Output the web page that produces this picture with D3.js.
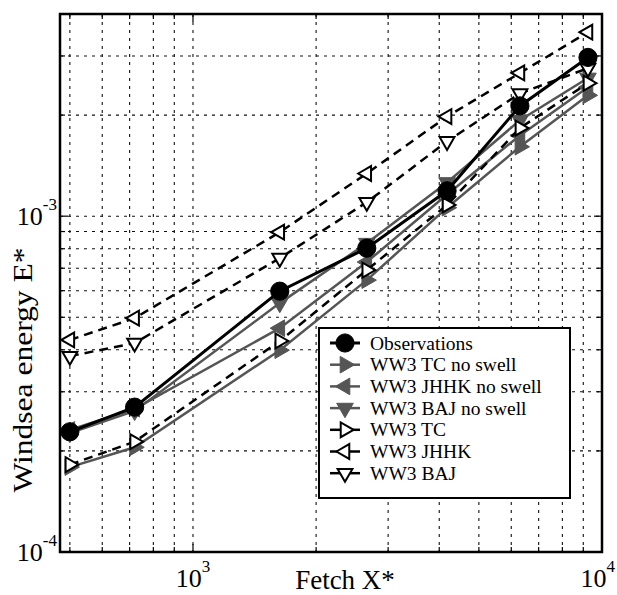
<!DOCTYPE html>
<html>
<head>
<meta charset="utf-8">
<script src="https://cdn.jsdelivr.net/npm/d3@7"></script>
<style>
  body { margin: 0; background: #fff; }
  text { font-family: "Liberation Serif", "Times New Roman", serif; fill: #000; }
</style>
</head>
<body>
<svg id="chart" width="617" height="595"></svg>
<script>
// Dimensionless fetch X* at which energies are compared
const fetchX = [500, 720, 1630, 2660, 4180, 6300, 9240];

// Dimensionless windsea energy E*
const observations = [2.28e-4, 2.70e-4, 5.98e-4, 8.03e-4, 1.19e-3, 2.13e-3, 2.97e-3];
const tcNoSwell    = [1.79e-4, 2.05e-4, 3.99e-4, 6.45e-4, 1.06e-3, 1.61e-3, 2.29e-3];
const jhhkNoSwell  = [2.31e-4, 2.67e-4, 4.64e-4, 7.30e-4, 1.16e-3, 1.74e-3, 2.42e-3];
const bajNoSwell   = [2.26e-4, 2.63e-4, 5.51e-4, 8.31e-4, 1.26e-3, 1.93e-3, 2.58e-3];
const tcSwell      = [1.82e-4, 2.13e-4, 4.25e-4, 6.91e-4, 1.08e-3, 1.83e-3, 2.49e-3];
const jhhkSwell    = [4.28e-4, 4.97e-4, 8.96e-4, 1.34e-3, 1.98e-3, 2.67e-3, 3.53e-3];
const bajSwell     = [3.83e-4, 4.19e-4, 7.50e-4, 1.10e-3, 1.67e-3, 2.32e-3, 2.76e-3];

const seriesNames = ["Observations", "WW3 TC no swell", "WW3 JHHK no swell", "WW3 BAJ no swell",
                     "WW3 TC", "WW3 JHHK", "WW3 BAJ"];

const xTickLabels = [{v: 1e3, exp: "3"}, {v: 1e4, exp: "4"}];
const yTickLabels = [{v: 1e-4, exp: "-4"}, {v: 1e-3, exp: "-3"}];

const W = 617, H = 595;
const margin = {left: 60, top: 14, right: 15, bottom: 43};
const pw = W - margin.left - margin.right;
const ph = H - margin.top - margin.bottom;

const x = d3.scaleLog().domain([473, 1e4]).range([0, pw]);
const y = d3.scaleLog().domain([1e-4, 4e-3]).range([ph, 0]);

const svg = d3.select("#chart");
const g = svg.append("g").attr("transform", `translate(${margin.left},${margin.top})`);

// Grid lines at every decade subdivision
const xGrid = [];
for (let d = 100; d <= 1e4; d *= 10) for (let k = 1; k <= 9; k++) {
  const v = d * k; if (v >= x.domain()[0] && v <= x.domain()[1]) xGrid.push(v);
}
const yGrid = [];
for (let d = 1e-4; d <= 1e-3 * 1.01; d *= 10) for (let k = 1; k <= 9; k++) {
  const v = d * k; if (v >= y.domain()[0] * 0.999 && v <= y.domain()[1] * 1.001) yGrid.push(v);
}
const grid = g.append("g").attr("stroke", "#111").attr("stroke-width", 1.1)
  .attr("stroke-dasharray", "3,5").attr("fill", "none");
grid.selectAll(".gx").data(xGrid.filter(v => v < 1e4)).join("line")
  .attr("x1", d => x(d)).attr("x2", d => x(d)).attr("y1", 0).attr("y2", ph);
grid.selectAll(".gy").data(yGrid.filter(v => v > 1e-4 && v < 4e-3 * 0.999)).join("line")
  .attr("y1", d => y(d)).attr("y2", d => y(d)).attr("x1", 0).attr("x2", pw);

// Tick marks drawn inward on all four sides
const ticks = g.append("g").attr("stroke", "#000").attr("stroke-width", 1.2);
xGrid.forEach(v => {
  const major = Math.abs(Math.log10(v) - Math.round(Math.log10(v))) < 1e-9;
  const len = major ? 8 : 5;
  ticks.append("line").attr("x1", x(v)).attr("x2", x(v)).attr("y1", ph).attr("y2", ph - len);
  ticks.append("line").attr("x1", x(v)).attr("x2", x(v)).attr("y1", 0).attr("y2", len);
});
yGrid.forEach(v => {
  const major = Math.abs(Math.log10(v) - Math.round(Math.log10(v))) < 1e-9;
  const len = major ? 8 : 5;
  ticks.append("line").attr("y1", y(v)).attr("y2", y(v)).attr("x1", 0).attr("x2", len);
  ticks.append("line").attr("y1", y(v)).attr("y2", y(v)).attr("x1", pw).attr("x2", pw - len);
});

// Series definitions
const grey = "#555";
const series = [
  {name: seriesNames[1], values: tcNoSwell,   color: grey, dash: null, marker: "right", fill: grey},
  {name: seriesNames[2], values: jhhkNoSwell, color: grey, dash: null, marker: "left",  fill: grey},
  {name: seriesNames[3], values: bajNoSwell,  color: grey, dash: null, marker: "down",  fill: grey},
  {name: seriesNames[4], values: tcSwell,     color: "#000", dash: "9,6", marker: "right", fill: "#fff"},
  {name: seriesNames[5], values: jhhkSwell,   color: "#000", dash: "9,6", marker: "left",  fill: "#fff"},
  {name: seriesNames[6], values: bajSwell,    color: "#000", dash: "9,6", marker: "down",  fill: "#fff"},
  {name: seriesNames[0], values: observations, color: "#000", dash: null, marker: "circle", fill: "#000"}
];

const rot = {right: 90, left: -90, down: 180};
function markerPath(m, filled) {
  if (m === "circle") return d3.symbol(d3.symbolCircle, 260)();
  return d3.symbol(d3.symbolTriangle, filled ? 120 : 95)();
}
function drawMarker(sel, s, cx, cy) {
  const filled = s.fill !== "#fff";
  sel.append("path")
    .attr("d", markerPath(s.marker, filled))
    .attr("transform", `translate(${cx},${cy})` + (rot[s.marker] ? ` rotate(${rot[s.marker]})` : ""))
    .attr("fill", s.fill)
    .attr("stroke", s.color)
    .attr("stroke-width", filled ? 1 : 2);
}

const line = d3.line().x((d, i) => x(fetchX[i])).y(d => y(d));
series.forEach(s => {
  g.append("path").datum(s.values)
    .attr("d", line)
    .attr("fill", "none")
    .attr("stroke", s.color)
    .attr("stroke-width", s.marker === "circle" ? 3 : 2.5)
    .attr("stroke-dasharray", s.dash);
  s.values.forEach((v, i) => drawMarker(g, s, x(fetchX[i]), y(v)));
});

// Legend
const legendOrder = [series[6], series[0], series[1], series[2], series[3], series[4], series[5]];
const lg = g.append("g").attr("transform", `translate(${319 - margin.left},${328 - margin.top})`);
lg.append("rect").attr("width", 251).attr("height", 170)
  .attr("fill", "#fff").attr("stroke", "#000").attr("stroke-width", 2);
legendOrder.forEach((s, i) => {
  const cy = 15 + i * 21.7;
  lg.append("line").attr("x1", 11).attr("x2", 41).attr("y1", cy).attr("y2", cy)
    .attr("stroke", s.color).attr("stroke-width", s.marker === "circle" ? 3 : 2.5);
  drawMarker(lg, s, 26, cy);
  lg.append("text").attr("x", 51).attr("y", cy + 6.5).attr("font-size", 19.5).text(s.name);
});

// Frame
g.append("rect").attr("width", pw).attr("height", ph)
  .attr("fill", "none").attr("stroke", "#000").attr("stroke-width", 2.5);

// Axis tick labels (power-of-ten notation)
xTickLabels.forEach(t => {
  const last = t.v === x.domain()[1];
  const tx = svg.append("text")
    .attr("x", last ? 615 : margin.left + x(t.v)).attr("y", 587)
    .attr("text-anchor", last ? "end" : "middle").attr("font-size", 26);
  tx.append("tspan").text("10");
  tx.append("tspan").attr("dy", -15).attr("font-size", 17).text(t.exp);
});
yTickLabels.forEach(t => {
  const ty = svg.append("text").attr("x", 57).attr("y", margin.top + y(t.v) + 9)
    .attr("text-anchor", "end").attr("font-size", 26);
  ty.append("tspan").text("10");
  ty.append("tspan").attr("dy", -15).attr("font-size", 17).text(t.exp);
});

// Axis titles
svg.append("text").attr("x", 345).attr("y", 589).attr("text-anchor", "middle")
  .attr("font-size", 27).text("Fetch X*");
svg.append("text").attr("transform", "translate(32,370) rotate(-90)")
  .attr("text-anchor", "middle").attr("font-size", 27)
  .attr("textLength", 245).attr("lengthAdjust", "spacingAndGlyphs")
  .text("Windsea energy E*");
</script>
</body>
</html>
